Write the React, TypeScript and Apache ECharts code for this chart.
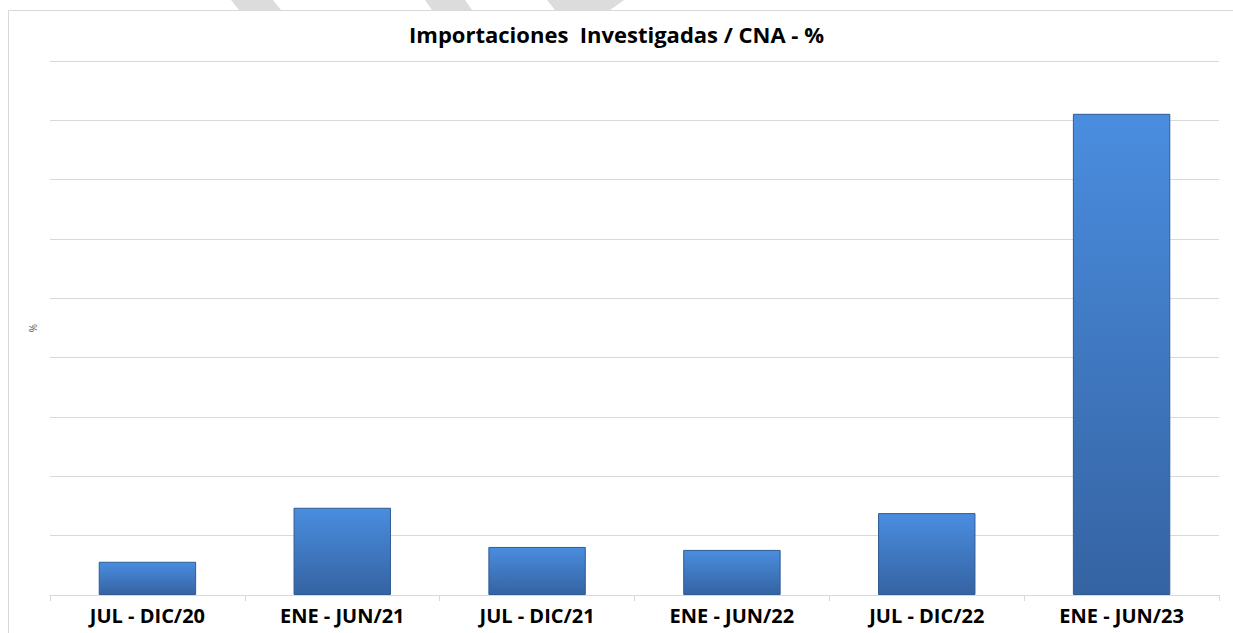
import React, { useEffect, useRef } from "react";
import * as echarts from "echarts";

const categories = ["JUL - DIC/20", "ENE - JUN/21", "JUL - DIC/21", "ENE - JUN/22", "JUL - DIC/22", "ENE - JUN/23"];
const values = [0.56, 1.47, 0.81, 0.76, 1.38, 8.11];
const titleText = "Importaciones  Investigadas / CNA - %";
const yName = "%";

export default function App() {
  const ref = useRef<HTMLDivElement>(null);
  useEffect(() => {
    if (!ref.current) return;
    const chart = echarts.init(ref.current, undefined, { renderer: "svg" });
    const gray = "#d9d9d9";
    chart.setOption({
      animation: false,
      backgroundColor: "#ffffff",
      title: {
        text: titleText,
        left: "center",
        top: 18,
        textStyle: { fontFamily: "Open Sans", fontWeight: "bold", fontSize: 22, color: "#000" },
      },
      grid: { left: 50, right: 14, top: 61, bottom: 38, containLabel: false },
      xAxis: {
        type: "category",
        data: categories,
        axisLine: { lineStyle: { color: gray, width: 1 } },
        axisTick: { show: true, length: 6, lineStyle: { color: gray } },
        axisLabel: {
          fontFamily: "Open Sans",
          fontWeight: "bold",
          fontSize: 20,
          color: "#000",
          margin: 10,
        },
      },
      yAxis: {
        type: "value",
        min: 0,
        max: 9,
        interval: 1,
        name: yName,
        nameLocation: "middle",
        nameRotate: 90,
        nameGap: 12,
        nameTextStyle: { fontSize: 10, color: "#595959", fontFamily: "Open Sans" },
        axisLabel: { show: false },
        axisLine: { show: false },
        axisTick: { show: false },
        splitLine: { lineStyle: { color: gray, width: 1 } },
      },
      series: [
        {
          type: "bar",
          data: values,
          barWidth: "50%",
          itemStyle: {
            color: new echarts.graphic.LinearGradient(0, 0, 0, 1, [
              { offset: 0, color: "#4a8ddf" },
              { offset: 1, color: "#3563a2" },
            ]),
            borderColor: "#2f5b93",
            borderWidth: 1,
          },
        },
      ],
      graphic: [
        { type: "line", shape: { x1: 8.5, y1: 10.5, x2: 1233, y2: 10.5 }, style: { stroke: gray, lineWidth: 1 } },
        { type: "line", shape: { x1: 8.5, y1: 10.5, x2: 8.5, y2: 633 }, style: { stroke: gray, lineWidth: 1 } },
        { type: "polygon", shape: { points: [[231, 0], [273, 0], [281, 10], [239, 10]] }, style: { fill: "#dcdcdc" } },
        { type: "polygon", shape: { points: [[425, 0], [465, 0], [472, 10], [432, 10]] }, style: { fill: "#dcdcdc" } },
        { type: "polygon", shape: { points: [[547, 0], [624, 0], [610, 10], [555, 10]] }, style: { fill: "#dcdcdc" } },
      ],
    });
    return () => chart.dispose();
  }, []);
  return <div ref={ref} style={{ position: "fixed", left: 0, top: 0, width: 1233, height: 633 }} />;
}
